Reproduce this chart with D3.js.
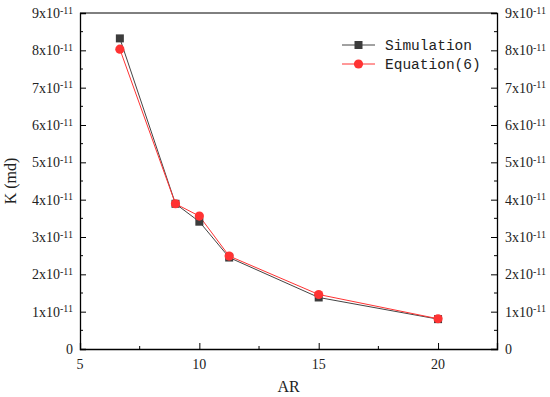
<!DOCTYPE html>
<html>
<head>
<meta charset="utf-8">
<script src="https://cdnjs.cloudflare.com/ajax/libs/d3/7.8.5/d3.min.js"></script>
<style>
  body { margin: 0; background: #fff; }
</style>
</head>
<body>
<div id="chart"></div>
<script>
// data
var ar = [6.67, 9, 10, 11.25, 15, 20];
var simulation = [8.32e-11, 3.89e-11, 3.41e-11, 2.45e-11, 1.38e-11, 0.80e-11];
var equation6 = [8.03e-11, 3.89e-11, 3.56e-11, 2.49e-11, 1.46e-11, 0.81e-11];
var xTicks = [5, 10, 15, 20];
var yTicks = [0, 1e-11, 2e-11, 3e-11, 4e-11, 5e-11, 6e-11, 7e-11, 8e-11, 9e-11];

var serif = "'Liberation Serif', 'Times New Roman', serif";

var margin = {top: 13, right: 53, bottom: 48, left: 80},
  width = 550 - margin.left - margin.right,
  height = 397 - margin.top - margin.bottom;

var svg = d3.select("#chart").append("svg")
  .attr("width", 550)
  .attr("height", 397)
  .append("g")
  .attr("transform", "translate(" + margin.left + "," + margin.top + ")");

var x = d3.scaleLinear().domain([5, 22.47]).range([0, width]);
var y = d3.scaleLinear().domain([0, 9e-11]).range([height, 0]);

// tick label with 10^-11 superscript
function yLabel(sel) {
  sel.each(function(d) {
    var t = d3.select(this).text(null);
    if (d === 0) { t.text("0"); return; }
    var m = Math.round(d / 1e-11);
    t.append("tspan").text(m + "x10");
    t.append("tspan").attr("dy", "-0.45em").style("font-size", "10px").text("-11");
  });
}

// minor ticks
var xMinor = d3.range(7.5, 22.5, 5);
var yMinor = d3.range(0.5e-11, 9e-11, 1e-11);

// left axis
var left = svg.append("g");
left.call(d3.axisLeft(y).tickValues(yTicks).tickSize(-6).tickFormat(""));
left.append("g").selectAll("line").data(yMinor).enter().append("line")
  .attr("x1", 0).attr("x2", 3).attr("y1", function(d) { return y(d); }).attr("y2", function(d) { return y(d); })
  .attr("stroke", "#000");
left.selectAll(".lbl").data(yTicks).enter().append("text")
  .attr("class", "lbl")
  .attr("x", -7).attr("y", function(d) { return y(d) + 5; })
  .attr("text-anchor", "end")
  .call(yLabel);

// right axis
var right = svg.append("g").attr("transform", "translate(" + width + ",0)");
right.call(d3.axisRight(y).tickValues(yTicks).tickSize(-6).tickFormat(""));
right.append("g").selectAll("line").data(yMinor).enter().append("line")
  .attr("x1", 0).attr("x2", -3).attr("y1", function(d) { return y(d); }).attr("y2", function(d) { return y(d); })
  .attr("stroke", "#000");
right.selectAll(".lbl").data(yTicks).enter().append("text")
  .attr("class", "lbl")
  .attr("x", 8).attr("y", function(d) { return y(d) + 5; })
  .attr("text-anchor", "start")
  .call(yLabel);

// bottom axis
var bottom = svg.append("g").attr("transform", "translate(0," + height + ")");
bottom.call(d3.axisBottom(x).tickValues(xTicks).tickSize(-6).tickFormat(""));
bottom.append("g").selectAll("line").data(xMinor).enter().append("line")
  .attr("y1", 0).attr("y2", -3).attr("x1", function(d) { return x(d); }).attr("x2", function(d) { return x(d); })
  .attr("stroke", "#000");
bottom.selectAll(".lbl").data(xTicks).enter().append("text")
  .attr("class", "lbl")
  .attr("x", function(d) { return x(d); }).attr("y", 20)
  .attr("text-anchor", "middle")
  .text(function(d) { return d; });

svg.selectAll(".lbl")
  .attr("font-family", serif).attr("font-size", 14).attr("fill", "#222");

// top border
svg.append("line").attr("x1", 0).attr("x2", width).attr("y1", 0).attr("y2", 0).attr("stroke", "#000");

svg.selectAll(".domain").attr("stroke", "#000").attr("stroke-width", 1.3);
svg.selectAll(".tick line").attr("stroke", "#000");

// axis titles
svg.append("text")
  .attr("x", width / 2).attr("y", height + 43)
  .attr("text-anchor", "middle")
  .attr("font-family", serif).attr("font-size", 16).attr("fill", "#222")
  .text("AR");
svg.append("text")
  .attr("transform", "translate(-64," + (height / 2) + ") rotate(-90)")
  .attr("text-anchor", "middle")
  .attr("font-family", serif).attr("font-size", 16).attr("fill", "#222")
  .text("K (md)");

// lines
var simData = ar.map(function(d, i) { return {x: d, y: simulation[i]}; });
var eqData = ar.map(function(d, i) { return {x: d, y: equation6[i]}; });
var line = d3.line().x(function(d) { return x(d.x); }).y(function(d) { return y(d.y); });

svg.append("path").datum(simData).attr("d", line)
  .attr("fill", "none").attr("stroke", "#444").attr("stroke-width", 1);
svg.append("path").datum(eqData).attr("d", line)
  .attr("fill", "none").attr("stroke", "#f33").attr("stroke-width", 1);

svg.selectAll(".sq").data(simData).enter().append("rect")
  .attr("class", "sq")
  .attr("x", function(d) { return x(d.x) - 4; }).attr("y", function(d) { return y(d.y) - 4; })
  .attr("width", 8).attr("height", 8).attr("fill", "#3c3c3c");
svg.selectAll(".ci").data(eqData).enter().append("circle")
  .attr("class", "ci")
  .attr("cx", function(d) { return x(d.x); }).attr("cy", function(d) { return y(d.y); })
  .attr("r", 4.6).attr("fill", "#f33");

// legend
var legend = svg.append("g").attr("transform", "translate(262,32)");
var items = [{name: "Simulation", color: "#444", fill: "#3c3c3c", shape: "sq"},
             {name: "Equation(6)", color: "#f33", fill: "#f33", shape: "ci"}];
items.forEach(function(it, i) {
  var g = legend.append("g").attr("transform", "translate(0," + (i * 19) + ")");
  g.append("line").attr("x1", 0).attr("x2", 33).attr("y1", 0).attr("y2", 0)
    .attr("stroke", it.color).attr("stroke-width", 1);
  if (it.shape === "sq") {
    g.append("rect").attr("x", 12.5).attr("y", -4).attr("width", 8).attr("height", 8).attr("fill", it.fill);
  } else {
    g.append("circle").attr("cx", 16.5).attr("cy", 0).attr("r", 4.6).attr("fill", it.fill);
  }
  g.append("text").attr("x", 43).attr("y", 5)
    .attr("font-family", "'Liberation Mono', 'DejaVu Sans Mono', monospace")
    .attr("font-size", 14.5).attr("fill", "#222")
    .text(it.name);
});
</script>
</body>
</html>
